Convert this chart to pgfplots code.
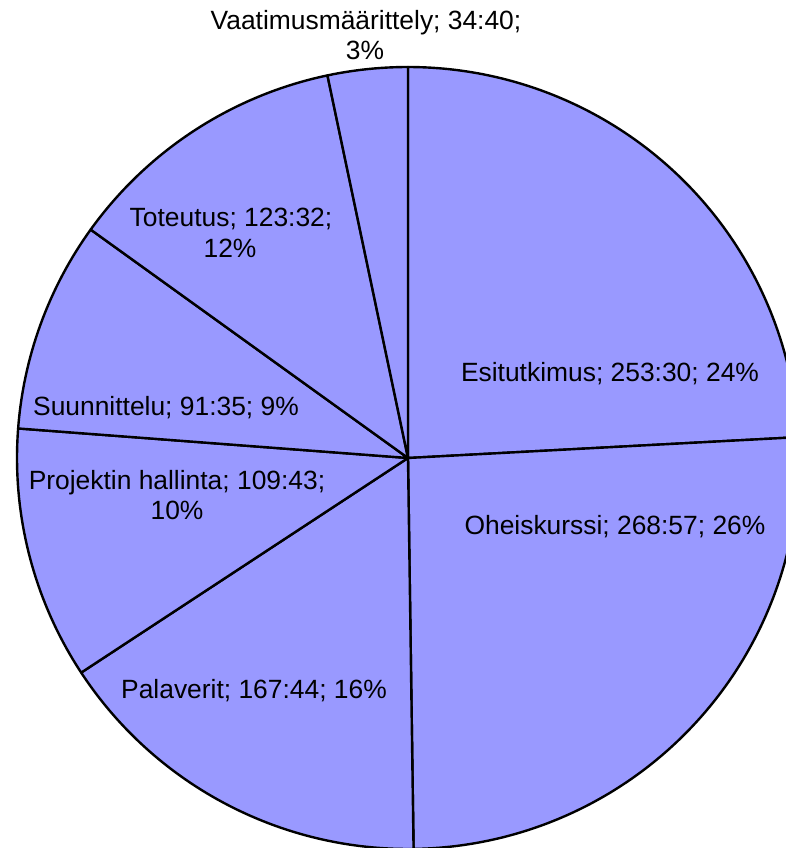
\documentclass[border=0pt]{standalone}
\usepackage{fontspec}
\setmainfont{Liberation Sans}
\usepackage{pgfplots}
\usepackage{pgfplotstable}
\pgfplotsset{compat=1.18}
\definecolor{piefill}{HTML}{9999FF}

% time per phase, hours and minutes (clockwise from 12 o'clock)
\pgfplotstableread{
h m
253 30
268 57
167 44
109 43
91 35
123 32
34 40
}\piedata

\begin{document}%
\begin{tikzpicture}[lbl/.style={font=\fontsize{13.2}{15}\selectfont, text=black, inner sep=0pt, anchor=base}]
% total in hours
\def\total{0}%
\pgfplotsforeachungrouped \i in {0,...,6}{%
  \pgfplotstablegetelem{\i}{h}\of\piedata\let\hh\pgfplotsretval
  \pgfplotstablegetelem{\i}{m}\of\piedata\let\mm\pgfplotsretval
  \pgfmathsetmacro\total{\total+\hh+\mm/60}%
}%
\def\cur{90}%
\pgfplotsforeachungrouped \i in {0,...,6}{%
  \pgfplotstablegetelem{\i}{h}\of\piedata\let\hh\pgfplotsretval
  \pgfplotstablegetelem{\i}{m}\of\piedata\let\mm\pgfplotsretval
  \pgfmathsetmacro\nxt{\cur-360*((\hh+\mm/60)/\total)}%
  \expandafter\xdef\csname ps\i\endcsname{\cur}%
  \expandafter\xdef\csname pe\i\endcsname{\nxt}%
  \let\cur\nxt
}%
\useasboundingbox (0,0) rectangle (393pt,424pt);
\begin{axis}[
  at={(0,0)}, anchor=south west,
  scale only axis, width=393pt, height=424pt,
  xmin=0, xmax=786, ymin=-848, ymax=0,
  hide axis, clip=true,
]
\pgfplotsinvokeforeach{0,...,6}{%
  \edef\doplot{\noexpand\addplot[fill=piefill, draw=black, line width=1.2pt, line join=round, samples=120, domain=\csname pe#1\endcsname:\csname ps#1\endcsname]}%
  \doplot ({408+391*cos(x)},{-458+391*sin(x)}) -- (408,-458) -- cycle;
}
\node[lbl] at (axis cs:366,-30) {Vaatimusmäärittely; 34:40;};
\node[lbl] at (axis cs:365,-59.5) {3\%};
\node[lbl] at (axis cs:231,-227) {Toteutus; 123:32;};
\node[lbl] at (axis cs:230,-258) {12\%};
\node[lbl] at (axis cs:166,-416) {Suunnittelu; 91:35; 9\%};
\node[lbl] at (axis cs:177,-490) {Projektin hallinta; 109:43;};
\node[lbl] at (axis cs:177,-520) {10\%};
\node[lbl] at (axis cs:610,-382) {Esitutkimus; 253:30; 24\%};
\node[lbl] at (axis cs:615,-535) {Oheiskurssi; 268:57; 26\%};
\node[lbl] at (axis cs:254,-699) {Palaverit; 167:44; 16\%};
\end{axis}
\end{tikzpicture}%
\end{document}
